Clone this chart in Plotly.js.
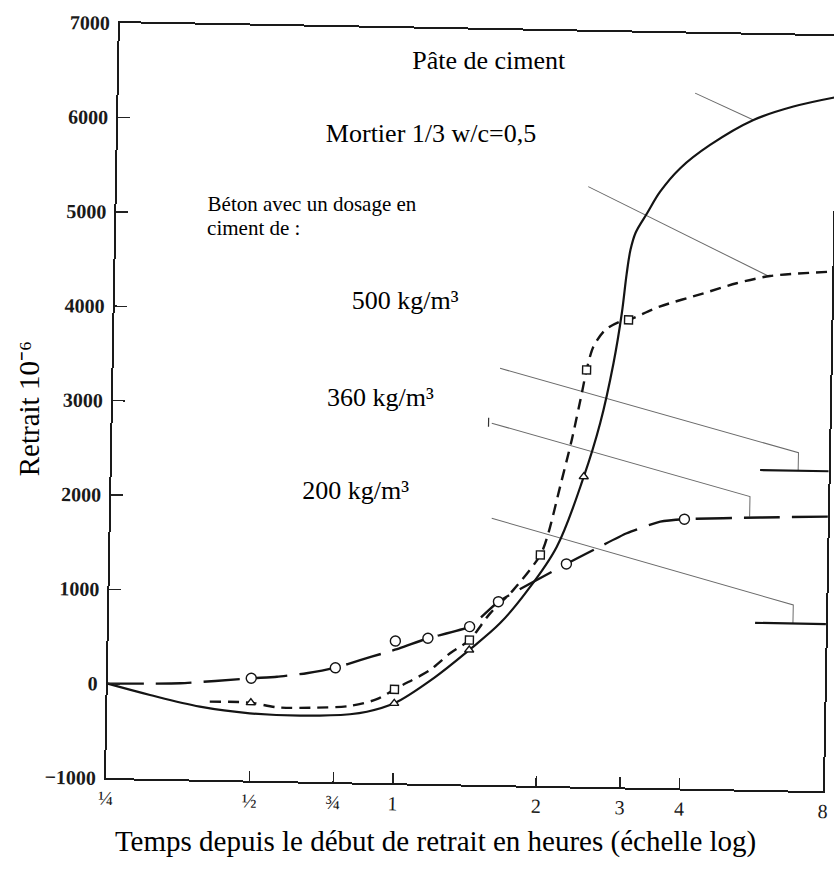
<!DOCTYPE html>
<html>
<head>
<meta charset="utf-8">
<script src="https://cdn.plot.ly/plotly-3.0.1.min.js"></script>
<style>
  html, body { margin: 0; padding: 0; background: #ffffff; overflow: hidden; }
  #chart {
    position: absolute; left: 0; top: 0; width: 834px; height: 873px;
    /* the scanned figure sits slightly tilted on the page */
    transform: rotate(1.05deg);
    transform-origin: 106px 778px;
  }
</style>
</head>
<body>
<div id="chart"></div>
<script>
// Shrinkage (10^-6) against time since the start of shrinkage (hours, log scale)

// Cement paste (solid curve)
const pateHours   = [0.25, 0.307, 0.391, 0.498, 0.635, 0.808, 0.877, 1.0, 1.206, 1.43, 1.655, 1.877, 2.164, 2.45, 2.639, 2.80, 2.902, 2.96, 3.01, 3.08, 3.25, 3.455, 3.80, 4.38, 5.39, 6.53, 8];
const pateRetrait = [0, -112, -226, -287, -302, -277, -248, -153, 120, 427, 715, 1056, 1538, 2285, 2854, 3493, 4024, 4440, 4700, 4880, 5088, 5319, 5572, 5824, 6097, 6247, 6354];

// Mortar 1/3, w/c = 0.5 (short dashes)
const mortierHours   = [0.41, 0.5, 0.567, 0.688, 0.808, 0.919, 1.0, 1.04, 1.185, 1.304, 1.43, 1.577, 1.761, 2.0, 2.07, 2.187, 2.304, 2.409, 2.46, 2.537, 2.681, 2.881, 3.0, 3.48, 4.30, 5.04, 5.92, 8];
const mortierRetrait = [-171, -174, -218, -214, -189, -113, -5, 43, 207, 388, 532, 819, 1072, 1447, 1661, 2175, 2672, 3169, 3416, 3664, 3843, 3935, 3955, 4101, 4251, 4364, 4447, 4506];

// Concrete, 360 kg/m3 of cement (long dashes)
const beton360Hours   = [0.25, 0.355, 0.5, 0.566, 0.653, 0.75, 0.845, 0.944, 1.023, 1.17, 1.43, 1.64, 2.27, 2.583, 3.03, 3.56, 4.0, 5.77, 8];
const beton360Retrait = [0, 18, 85, 106, 149, 212, 299, 375, 432, 543, 674, 944, 1357, 1510, 1694, 1823, 1854, 1887, 1909];

// Measured points
const circleHours     = [0.5, 0.75, 1, 1.17, 1.43, 1.64, 2.27, 4];
const circleRetrait   = [85, 212, 507, 543, 674, 944, 1357, 1854];
const squareHours     = [1, 1.43, 2, 2.46, 3];
const squareRetrait   = [-5, 532, 1447, 3416, 3955];
const triangleHours   = [0.5, 1, 1.43, 2.45];
const triangleRetrait = [-174, -153, 427, 2285];

// Final shrinkage of the 500 and 200 kg/m3 concretes (bars at the right edge)
const final500 = 2390;
const final200 = 770;

// Label leader lines (hours, shrinkage)
const leaderPateHours      = [4.056, 5.39];
const leaderPateRetrait    = [6370, 6097];
const leaderMortierHours   = [2.44, 5.87];
const leaderMortierRetrait = [5359, 4447];
const leader500Hours       = [1.619, 6.90, 6.90];
const leader500Retrait     = [3417, 2581, final500];
const leader360Hours       = [1.563, 5.48, 5.48];
const leader360Retrait     = [2834, 2106, 1894];
const leader360TickHours   = [1.539, 1.539];
const leader360TickRetrait = [2890, 2795];
const leader200Hours       = [1.576, 6.82, 6.82];
const leader200Retrait     = [1827, 967, final200];
const bar500Hours          = [5.74, 8];
const bar200Hours          = [5.68, 8];

// Axis ticks
const hourTicks     = [0.25, 0.5, 0.75, 1, 2, 3, 4, 8];
const hourTickText  = ['¼', '½', '¾', '1', '2', '3', '4', '8'];
const retraitTicks  = [-1000, 0, 1000, 2000, 3000, 4000, 5000, 6000, 7000];
const retraitText   = ['−1000', '0', '1000', '2000', '3000', '4000', '5000', '6000', '7000'];

// ---- geometry ----
const W = 834, H = 873;
const M = { l: 106, r: 11, t: 23, b: 95 };
const PW = W - M.l - M.r, PH = H - M.t - M.b;
const ANG = 1.05, OX = 106, OY = 778;   // must agree with the CSS transform

// page pixel -> paper coordinates inside the rotated chart
function toPaper(sx, sy) {
  const a = -ANG * Math.PI / 180;
  const dx = sx - OX, dy = sy - OY;
  const ux = OX + dx * Math.cos(a) - dy * Math.sin(a);
  const uy = OY + dx * Math.sin(a) + dy * Math.cos(a);
  return { x: (ux - M.l) / PW, y: (H - M.b - uy) / PH };
}

const SERIF = 'Liberation Serif, Times New Roman, serif';
const INK = '#141414';

function curve(x, y, dash, width, smooth) {
  return { x: x, y: y, type: 'scatter', mode: 'lines', hoverinfo: 'skip',
    line: { color: INK, width: width, dash: dash, shape: 'spline', smoothing: smooth } };
}
function thin(x, y, color, width) {
  return { x: x, y: y, type: 'scatter', mode: 'lines', hoverinfo: 'skip',
    line: { color: color || '#6a6a6a', width: width || 1 } };
}
function points(x, y, symbol, size) {
  return { x: x, y: y, type: 'scatter', mode: 'markers', hoverinfo: 'skip',
    marker: { symbol: symbol, size: size, color: '#ffffff', line: { color: INK, width: 1.4 } } };
}

const traces = [
  thin(leaderPateHours, leaderPateRetrait),
  thin(leaderMortierHours, leaderMortierRetrait),
  thin(leader500Hours, leader500Retrait),
  thin(leader360Hours, leader360Retrait),
  thin(leader360TickHours, leader360TickRetrait, '#333', 1.2),
  thin(leader200Hours, leader200Retrait),
  thin(bar500Hours, [final500, final500], INK, 2.2),
  thin(bar200Hours, [final200, final200], INK, 2.2),
  curve(beton360Hours, beton360Retrait, '36px,12px', 2.4, 0.5),
  curve(mortierHours, mortierRetrait, '11px,7px', 2.4, 0.8),
  curve(pateHours, pateRetrait, 'solid', 2.2, 1.0),
  points(circleHours, circleRetrait, 'circle', 10),
  points(squareHours, squareRetrait, 'square', 8),
  points(triangleHours, triangleRetrait, 'triangle-up', 8)
];

function label(text, sx, sy, size, xanchor, angle) {
  const p = toPaper(sx, sy);
  return { text: text, x: p.x, y: p.y, xref: 'paper', yref: 'paper',
    xanchor: xanchor || 'center', yanchor: 'middle', showarrow: false,
    textangle: (angle || 0) - ANG,
    font: { family: SERIF, size: size, color: '#000000' } };
}

const annotations = [
  label('Pâte de ciment', 489, 60, 26),
  label('Mortier 1/3 w/c=0,5', 431, 133, 26),
  label('Béton avec un dosage en', 205, 202, 21, 'left'),
  label('ciment de :', 205, 227, 21, 'left'),
  label('500 kg/m³', 350, 300, 26, 'left'),
  label('360 kg/m³', 325, 396, 26, 'left'),
  label('200 kg/m³', 300, 489, 26, 'left'),
  label('Retrait 10⁻⁶', 29, 409, 29, 'center', -90),
  label('Temps depuis le début de retrait en heures (échelle log)', 435, 842, 29)
];

const axisCommon = {
  showline: true, mirror: true, linecolor: '#1a1a1a', linewidth: 2,
  showgrid: false, zeroline: false, ticks: 'inside', tickwidth: 1.5,
  tickcolor: '#222', fixedrange: true
};

const layout = {
  width: W, height: H,
  margin: { l: M.l, r: M.r, t: M.t, b: M.b, pad: 0 },
  paper_bgcolor: '#ffffff', plot_bgcolor: '#ffffff',
  showlegend: false,
  xaxis: Object.assign({}, axisCommon, {
    type: 'log', range: [Math.log10(0.25), Math.log10(8)],
    tickmode: 'array', tickvals: hourTicks, ticktext: hourTickText,
    ticklen: 10, ticklabelstandoff: 1,
    tickfont: { family: SERIF, size: 20, color: '#1a1a1a' }
  }),
  yaxis: Object.assign({}, axisCommon, {
    range: [-1000, 7000],
    tickmode: 'array', tickvals: retraitTicks, ticktext: retraitText,
    ticklen: 12, ticklabelstandoff: 4,
    tickfont: { family: SERIF, size: 20, color: '#1a1a1a', weight: 'bold' }
  }),
  annotations: annotations
};

Plotly.newPlot('chart', traces, layout, { staticPlot: true, displayModeBar: false });
</script>
</body>
</html>
